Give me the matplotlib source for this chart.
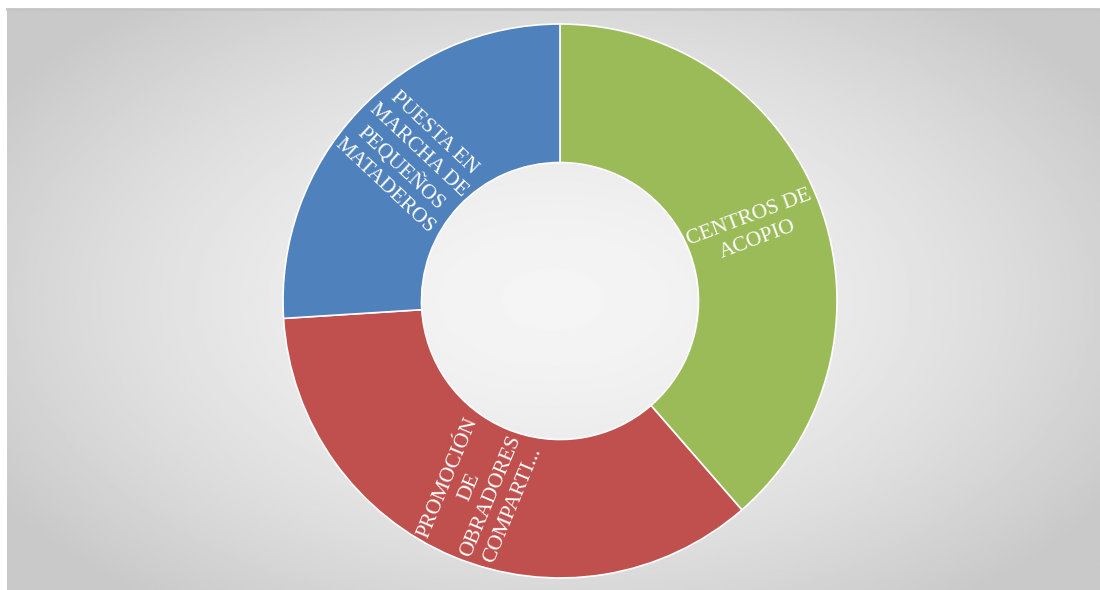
import matplotlib
matplotlib.use("Agg")
import matplotlib.pyplot as plt
import numpy as np

# datos (porcentaje aproximado de cada categoría)
categorias = ["CENTROS DE\nACOPIO",
              "PROMOCIÓN\nDE\nOBRADORES\nCOMPARTI...",
              "PUESTA EN\nMARCHA DE\nPEQUEÑOS\nMATADEROS"]
valores = [38.6, 35.4, 26.0]
colores = ["#9BBB59", "#C0504D", "#4F81BD"]

fig = plt.figure(figsize=(11, 5.9), dpi=100)
fig.patch.set_facecolor("white")

# fondo con degradado radial
bg = fig.add_axes([7 / 1100, 0, 1 - 7 / 1100, 581 / 590])
yy, xx = np.mgrid[-1:1:300j, -1:1:560j]
r = np.sqrt(xx ** 2 + (0.9 * yy) ** 2)
v = 0.96 - 0.13 * np.clip(r, 0, 1.2) ** 1.6
bg.imshow(v, cmap="gray", vmin=0, vmax=1, aspect="auto",
          extent=[0, 1, 0, 1], interpolation="bilinear")
bg.plot([0, 1], [1, 1], color="#c4c4c4", lw=2, transform=bg.transAxes, clip_on=False)
bg.set_xlim(0, 1)
bg.set_ylim(0, 1)
bg.axis("off")

# gráfico de anillo
ax = fig.add_axes([283 / 1100, 12 / 590, 554 / 1100, 554 / 590])
ax.patch.set_alpha(0)
wedges, _ = ax.pie(valores, colors=colores, startangle=90, counterclock=False,
                   radius=1, wedgeprops=dict(width=0.5, edgecolor="white", linewidth=1.2))
ax.set_xlim(-1, 1)
ax.set_ylim(-1, 1)
ax.set_aspect("equal")

# etiquetas radiales en el centro de cada sector
for w, txt in zip(wedges, categorias):
    ang = (w.theta1 + w.theta2) / 2
    x = 0.745 * np.cos(np.deg2rad(ang))
    y = 0.745 * np.sin(np.deg2rad(ang))
    rot = ang if x > 0 else ang + 180
    ax.text(x, y, txt, ha="center", va="center", rotation=rot,
            rotation_mode="anchor", multialignment="center",
            color="white", fontsize=15.5, family="Liberation Serif",
            linespacing=1.3)

fig.savefig("out.png", dpi=100)
